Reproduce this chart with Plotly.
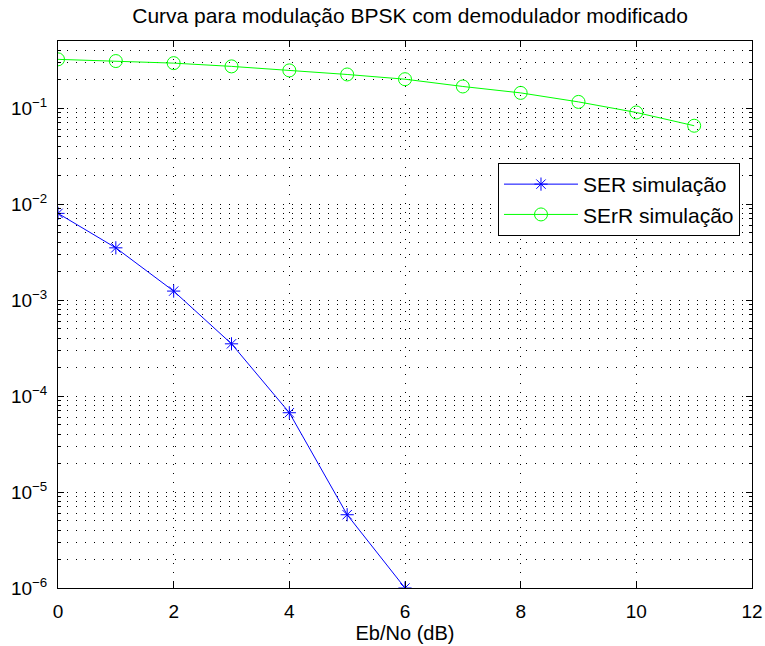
import plotly.graph_objects as go

ebno = [0, 1, 2, 3, 4, 5, 6]
ser = [8.0e-3, 3.5e-3, 1.24e-3, 3.5e-4, 6.7e-5, 5.8e-6, 1.0e-6]
ebno_r = [0, 1, 2, 3, 4, 5, 6, 7, 8, 9, 10, 11]
serr = [0.322, 0.309, 0.294, 0.272, 0.247, 0.224, 0.200, 0.168, 0.144, 0.116, 0.090, 0.0655]
ytick_vals = [1e-6, 1e-5, 1e-4, 1e-3, 1e-2, 1e-1]
ytick_text = ["10<sup>−6</sup>", "10<sup>−5</sup>", "10<sup>−4</sup>", "10<sup>−3</sup>", "10<sup>−2</sup>", "10<sup>−1</sup>"]
xtick_vals = [0, 2, 4, 6, 8, 10, 12]

FONT = "Liberation Sans, Arial, sans-serif"
dot = "1px,8px"

fig = go.Figure()
fig.add_trace(go.Scatter(x=ebno, y=ser, mode="lines+markers", name="SER simulação",
                         line=dict(color="#0000FF", width=1),
                         marker=dict(symbol="asterisk-open", size=11, color="#0000FF",
                                     line=dict(color="#0000FF", width=1))))
fig.add_trace(go.Scatter(x=ebno_r, y=serr, mode="lines+markers", name="SErR simulação",
                         line=dict(color="#00FF00", width=1),
                         marker=dict(symbol="circle-open", size=13, color="#00FF00",
                                     line=dict(color="#00FF00", width=1))))

fig.update_layout(
    width=765, height=646,
    margin=dict(l=58, r=13, t=41, b=58),
    paper_bgcolor="white", plot_bgcolor="white",
    font=dict(family=FONT, color="black", size=18),
    title=dict(text="Curva para modulação BPSK com demodulador modificado",
               x=0.536, xanchor="center", y=1 - 16 / 646, yanchor="middle", yref="container",
               font=dict(size=21, family=FONT)),
    legend=dict(x=0.634, y=0.777, xanchor="left", yanchor="top",
                bgcolor="white", bordercolor="black", borderwidth=1,
                font=dict(size=21, family=FONT), itemwidth=74,
                tracegroupgap=0),
    showlegend=True,
)
fig.update_xaxes(range=[0, 12], tickvals=xtick_vals, showline=True, linecolor="black", linewidth=1,
                 mirror="ticks", ticks="inside", ticklen=6, tickcolor="black",
                 showgrid=True, gridcolor="black", gridwidth=1, griddash=dot,
                 zeroline=False, tickfont=dict(size=19, family=FONT), ticklabelstandoff=6,
                 automargin=False,
                 title=dict(text="Eb/No (dB)", font=dict(size=20, family=FONT), standoff=4))
fig.update_yaxes(type="log", range=[-6, -0.301], tickvals=ytick_vals, ticktext=ytick_text,
                 showline=True, linecolor="black", linewidth=1,
                 mirror="ticks", ticks="inside", ticklen=6, tickcolor="black",
                 showgrid=True, gridcolor="black", gridwidth=1, griddash=dot,
                 zeroline=False, tickfont=dict(size=19, family=FONT), ticklabelstandoff=6,
                 automargin=False,
                 minor=dict(ticks="inside", ticklen=3, tickcolor="black", showgrid=True,
                            gridcolor="black", gridwidth=1, griddash=dot,
                            tickvals=[m * 10 ** e for e in range(-6, 0) for m in range(2, 10)]))

fig.write_html("out.html", config={"displayModeBar": False},
               post_script="document.body.style.margin='0';document.body.style.overflow='hidden';")
